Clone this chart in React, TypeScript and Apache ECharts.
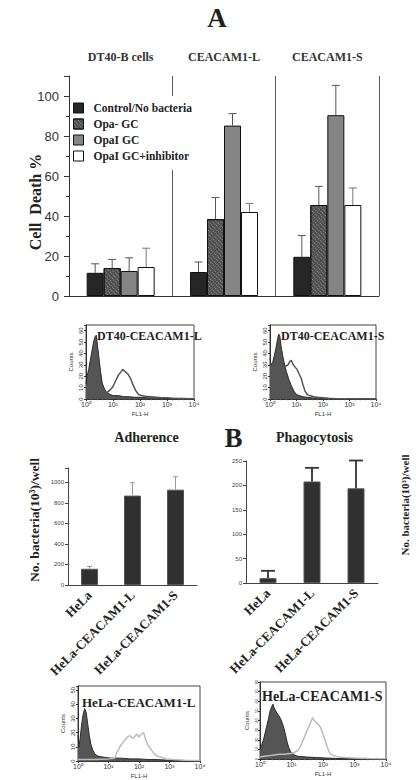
import React, { useEffect, useRef } from "react";
import * as echarts from "echarts";

const SERIF = '"Liberation Serif", "Times New Roman", serif';
const SANS = '"Liberation Sans", Arial, sans-serif';

// ---- Panel A: cell death ----
const groupNames = ["DT40-B cells", "CEACAM1-L", "CEACAM1-S"];
const seriesNames = ["Control/No bacteria", "Opa- GC", "OpaI GC", "OpaI GC+inhibitor"];
const controlVals = [11.6, 12, 19.6];
const controlTops = [16.1, 17, 30.2];
const opaNegVals = [14, 38.4, 45.5];
const opaNegTops = [18.3, 49.2, 54.8];
const opaIVals = [12.5, 85.2, 90.4];
const opaITops = [19.1, 91.2, 105.3];
const inhibVals = [14.5, 42, 45.5];
const inhibTops = [23.9, 46.3, 54];
const deathTicks = [0, 20, 40, 60, 80, 100];

// ---- Flow histograms (x = log10 FL1-H) ----
const dtLFillX = [0, 0.04, 0.1, 0.16, 0.22, 0.28, 0.34, 0.38, 0.42, 0.48, 0.54, 0.6, 0.7, 0.8, 0.9, 1.0, 1.2, 1.4, 1.6, 1.8, 2.0, 2.3, 2.6, 3.0, 3.4, 3.8, 4.0];
const dtLFillY = [13, 20, 26, 34, 42, 50, 55, 56, 48, 36, 24, 14, 8, 5, 4, 3, 3, 2, 2, 1.5, 1.5, 1, 1, 0.5, 0.5, 0.3, 0];
const dtLOpenX = [0, 0.3, 0.5, 0.6, 0.7, 0.8, 0.9, 1.0, 1.1, 1.2, 1.3, 1.36, 1.45, 1.55, 1.65, 1.75, 1.85, 1.95, 2.05, 2.2, 2.4, 2.6, 2.8, 3.0, 3.3, 3.6, 4.0];
const dtLOpenY = [1, 2, 3, 4, 5, 6, 8, 11, 16, 21, 24, 26, 24, 22, 18, 12, 7, 4, 3, 2.5, 2, 1.5, 1, 1, 0.5, 0.5, 0.3];

const dtSFillX = [0, 0.04, 0.1, 0.16, 0.22, 0.28, 0.33, 0.37, 0.42, 0.48, 0.55, 0.62, 0.7, 0.8, 0.9, 1.0, 1.1, 1.25, 1.4, 1.6, 1.8, 2.0, 2.2, 2.5, 3.0, 4.0];
const dtSFillY = [36, 30, 32, 38, 44, 52, 57, 55, 46, 38, 30, 24, 18, 12, 7, 4, 3, 2, 1.5, 1, 1, 0.7, 0.5, 0.3, 0.2, 0];
const dtSOpenX = [0, 0.2, 0.35, 0.45, 0.52, 0.6, 0.68, 0.75, 0.8, 0.88, 0.95, 1.02, 1.1, 1.18, 1.25, 1.32, 1.4, 1.5, 1.65, 1.8, 2.0, 2.2, 2.5, 3.0, 4.0];
const dtSOpenY = [3, 8, 15, 22, 27, 29, 30, 33, 34, 30, 28, 26, 22, 18, 12, 7, 4, 3, 2, 1.5, 1, 0.7, 0.3, 0.2, 0];

const helaLFillX = [0, 0.03, 0.07, 0.12, 0.17, 0.22, 0.27, 0.32, 0.37, 0.42, 0.48, 0.55, 0.65, 0.75, 0.9, 1.1, 1.4, 1.7, 2.0, 2.3, 2.6, 3.0, 3.5, 4.0];
const helaLFillY = [18, 10, 16, 26, 33, 37, 34, 26, 18, 12, 8, 5, 3.5, 3, 2.5, 2, 2, 1.5, 1.5, 1, 1, 0.5, 0.3, 0];
const helaLOpenX = [0, 0.5, 1.0, 1.2, 1.27, 1.33, 1.4, 1.48, 1.55, 1.62, 1.7, 1.78, 1.85, 1.92, 2.0, 2.07, 2.15, 2.22, 2.3, 2.4, 2.5, 2.6, 2.75, 2.9, 3.1, 3.5, 4.0];
const helaLOpenY = [1, 1, 1.5, 2, 6, 8, 11, 13, 15, 17, 18, 16, 17, 19, 17, 19, 20, 15, 11, 8, 5, 3.5, 2.5, 1.5, 1, 0.5, 0.3];

const helaSFillX = [0, 0.05, 0.11, 0.17, 0.22, 0.27, 0.32, 0.37, 0.41, 0.45, 0.5, 0.55, 0.6, 0.65, 0.7, 0.76, 0.81, 0.86, 0.91, 0.97, 1.02, 1.1, 1.18, 1.3, 1.5, 1.8, 2.1, 2.5, 3.0, 4.0];
const helaSFillY = [10, 14, 20, 28, 35, 42, 50, 54, 57, 53, 50, 47, 45, 42, 38, 32, 25, 18, 12, 8, 6, 4, 3, 2.5, 2, 1.5, 1, 0.5, 0.3, 0];
const helaSOpenX = [0, 0.2, 0.4, 0.6, 0.8, 1.0, 1.1, 1.2, 1.3, 1.4, 1.5, 1.58, 1.63, 1.67, 1.72, 1.78, 1.85, 1.92, 2.0, 2.08, 2.15, 2.22, 2.3, 2.4, 2.5, 2.7, 3.0, 3.5, 4.0];
const helaSOpenY = [2, 3, 4, 5, 5, 6, 7, 9, 14, 22, 30, 36, 40, 43, 40, 38, 36, 33, 26, 18, 11, 6, 4, 3, 2, 1.5, 1, 0.5, 0.3];

const decadeLabels = ["10⁰", "10¹", "10²", "10³", "10⁴"];

// ---- Panel B ----
const helaCats = ["HeLa", "HeLa-CEACAM1-L", "HeLa-CEACAM1-S"];
const adherenceVals = [158, 871, 929];
const adherenceTops = [181, 997, 1055];
const phagoVals = [10, 208, 194];
const phagoTops = [25, 236, 251];

const zip = (xs: number[], ys: number[]) => xs.map((x, i) => [x, ys[i]]);

function errorSeries(id: string, xi: number, yi: number, means: number[], tops: number[], offset: number, cap: number, color: string, width: number) {
  return {
    type: "custom",
    id,
    xAxisIndex: xi,
    yAxisIndex: yi,
    z: 6,
    silent: true,
    data: means.map((m, i) => [i, m, tops[i]]),
    encode: { x: 0, y: [1, 2] },
    renderItem: (params: any, api: any) => {
      const c = api.value(0);
      const p0 = api.coord([c, api.value(1)]);
      const p1 = api.coord([c, api.value(2)]);
      const x = p0[0] + offset;
      const st = { stroke: color, lineWidth: width };
      return {
        type: "group",
        children: [
          { type: "line", shape: { x1: x, y1: p0[1], x2: x, y2: p1[1] }, style: st },
          { type: "line", shape: { x1: x - cap / 2, y1: p1[1], x2: x + cap / 2, y2: p1[1] }, style: st },
        ],
      };
    },
  };
}

function histX(gridIndex: number) {
  return {
    gridIndex,
    type: "value",
    min: 0,
    max: 4,
    interval: 1,
    axisLine: { show: true, lineStyle: { color: "#333", width: 1 } },
    axisTick: { show: true, length: 2, lineStyle: { color: "#333" } },
    minorTick: { show: true, splitNumber: 5, length: 1.2, lineStyle: { color: "#555" } },
    splitLine: { show: false },
    axisLabel: { fontSize: 7, margin: 2, color: "#333", fontFamily: SANS, formatter: (v: number) => decadeLabels[v] ?? "" },
    name: "FL1-H",
    nameLocation: "middle",
    nameGap: 12,
    nameTextStyle: { fontSize: 6, color: "#333", fontFamily: SANS },
  };
}

function histY(gridIndex: number, max: number, labelSize: number) {
  return {
    gridIndex,
    type: "value",
    min: 0,
    max,
    interval: 10,
    axisLine: { show: true, lineStyle: { color: "#333", width: 1 } },
    axisTick: { show: true, length: 2, lineStyle: { color: "#333" } },
    splitLine: { show: false },
    axisLabel: { fontSize: labelSize, margin: 2, rotate: 90, color: "#333", fontFamily: SANS, formatter: (v: number) => (v % 10 === 0 ? String(v) : "") },
    name: "Counts",
    nameLocation: "middle",
    nameGap: 12,
    nameTextStyle: { fontSize: 6, color: "#333", fontFamily: SANS },
  };
}

function fillSeries(xi: number, yi: number, xs: number[], ys: number[]) {
  return {
    type: "line", xAxisIndex: xi, yAxisIndex: yi, data: zip(xs, ys), symbol: "none", silent: true, z: 2,
    lineStyle: { color: "#2a2a2a", width: 1 },
    areaStyle: { color: "#555", opacity: 1 },
  };
}
function openSeries(xi: number, yi: number, xs: number[], ys: number[], color: string) {
  return {
    type: "line", xAxisIndex: xi, yAxisIndex: yi, data: zip(xs, ys), symbol: "none", silent: true, z: 3,
    lineStyle: { color, width: 1.5 },
  };
}

function txt(text: string, x: number, y: number, size: number, opts: any = {}) {
  return {
    type: "text",
    x,
    y,
    rotation: opts.rotation ?? 0,
    z: 10,
    style: {
      text,
      fill: opts.color ?? "#222",
      fontSize: size,
      fontWeight: opts.weight ?? "bold",
      fontFamily: opts.family ?? SERIF,
      align: opts.align ?? "center",
      verticalAlign: "middle",
    },
  };
}

export default function App() {
  const ref = useRef<HTMLDivElement>(null);
  useEffect(() => {
    document.body.style.margin = "0";
    if (!ref.current) return;
    const chart = echarts.init(ref.current, undefined, { renderer: "svg" });
    const barBorder = { borderColor: "#111", borderWidth: 1 };
    const option: any = {
      animation: false,
      backgroundColor: "#fff",
      grid: [
        { left: 69, top: 76, width: 310, height: 220, show: false },
        { left: 86, top: 325, width: 108, height: 74, show: true, borderColor: "#444", borderWidth: 1 },
        { left: 270, top: 325, width: 106, height: 74, show: true, borderColor: "#444", borderWidth: 1 },
        { left: 68, top: 468, width: 129, height: 117, show: false },
        { left: 246, top: 461, width: 132, height: 122, show: false },
        { left: 78, top: 686, width: 122, height: 75, show: true, borderColor: "#444", borderWidth: 1 },
        { left: 260, top: 682, width: 126, height: 77, show: true, borderColor: "#444", borderWidth: 1 },
        { left: 69, top: 92, width: 10, height: 220, show: false },
      ],
      legend: {
        data: seriesNames,
        orient: "vertical",
        left: 70,
        top: 96,
        itemWidth: 10,
        itemHeight: 10,
        itemGap: 4,
        icon: "rect",
        padding: [6, 4, 8, 3],
        backgroundColor: "#fff",
        itemStyle: { borderColor: "#111", borderWidth: 1 },
        textStyle: { fontFamily: SERIF, fontWeight: "bold", fontSize: 11.5, color: "#222", padding: [0, 0, 0, 5] },
        selectedMode: false,
      },
      xAxis: [
        {
          gridIndex: 0, type: "category", data: groupNames, position: "bottom",
          axisLine: { show: true, lineStyle: { color: "#333" } },
          axisTick: { show: false }, axisLabel: { show: false },
          splitLine: { show: true, lineStyle: { color: "#555", width: 1 } },
        },
        {
          gridIndex: 0, type: "category", data: groupNames, position: "top",
          axisLine: { show: false }, axisTick: { show: false }, splitLine: { show: false },
          axisLabel: { margin: 13, fontFamily: SERIF, fontWeight: "bold", fontSize: 12, color: "#333" },
        },
        histX(1),
        histX(2),
        {
          gridIndex: 3, type: "category", data: helaCats,
          axisLine: { show: true, lineStyle: { color: "#444" } }, axisTick: { show: false },
          axisLabel: { interval: 0, rotate: 45, margin: 8, fontFamily: SERIF, fontWeight: "bold", fontSize: 13, color: "#222" },
        },
        {
          gridIndex: 4, type: "category", data: helaCats,
          axisLine: { show: true, lineStyle: { color: "#444" } }, axisTick: { show: false },
          axisLabel: { interval: 0, rotate: 45, margin: 8, fontFamily: SERIF, fontWeight: "bold", fontSize: 13, color: "#222" },
        },
        histX(5),
        histX(6),
        { gridIndex: 7, type: "value", show: false, min: 0, max: 1 },
      ],
      yAxis: [
        {
          gridIndex: 0, type: "value", min: 0, max: 110, interval: 20,
          axisLine: { show: true, lineStyle: { color: "#333" } },
          axisTick: { show: true, length: 5, lineStyle: { color: "#333" } },
          minorTick: { show: true, splitNumber: 2, length: 3, lineStyle: { color: "#333" } },
          splitLine: { show: false },
          axisLabel: {
            margin: 10, fontFamily: SANS, fontSize: 13, color: "#333",
            formatter: (v: number) => (deathTicks.includes(v) ? String(v) : ""),
          },
        },
        histY(1, 65, 6),
        histY(2, 65, 6),
        {
          gridIndex: 3, type: "value", min: 0, max: 1140, interval: 200,
          axisLine: { show: true, lineStyle: { color: "#444" } },
          axisTick: { show: true, length: 3, lineStyle: { color: "#444" } },
          splitLine: { show: false },
          axisLabel: { margin: 4, fontFamily: SANS, fontSize: 6, color: "#444", formatter: (v: number) => (v % 200 === 0 ? String(v) : "") },
        },
        {
          gridIndex: 4, type: "value", min: 0, max: 250, interval: 50,
          axisLine: { show: true, lineStyle: { color: "#444" } },
          axisTick: { show: true, length: 3, lineStyle: { color: "#444" } },
          splitLine: { show: false },
          axisLabel: { margin: 4, fontFamily: SANS, fontSize: 6, color: "#444" },
        },
        histY(5, 53, 6),
        { ...histY(6, 80, 4), nameGap: 10 },
        {
          gridIndex: 7, type: "value", min: 0, max: 1,
          axisLine: { show: false }, axisTick: { show: false }, axisLabel: { show: false }, splitLine: { show: false },
          name: "Cell  Death %", nameLocation: "middle", nameGap: 26,
          nameTextStyle: { fontFamily: SERIF, fontWeight: "bold", fontSize: 16, color: "#222" },
        },
      ],
      series: [
        { type: "bar", name: seriesNames[0], xAxisIndex: 0, yAxisIndex: 0, data: controlVals, barWidth: 17, barGap: "0%", itemStyle: { color: "#262626", ...barBorder } },
        {
          type: "bar", name: seriesNames[1], xAxisIndex: 0, yAxisIndex: 0, data: opaNegVals, barWidth: 17, barGap: "0%",
          itemStyle: {
            color: "#4e4e4e", ...barBorder,
            decal: { symbol: "rect", symbolSize: 1, color: "rgba(170,170,170,0.75)", dashArrayX: [1, 1], dashArrayY: [1, 2], rotation: Math.PI / 4 },
          },
        },
        { type: "bar", name: seriesNames[2], xAxisIndex: 0, yAxisIndex: 0, data: opaIVals, barWidth: 17, barGap: "0%", itemStyle: { color: "#858585", ...barBorder } },
        { type: "bar", name: seriesNames[3], xAxisIndex: 0, yAxisIndex: 0, data: inhibVals, barWidth: 17, barGap: "0%", itemStyle: { color: "#ffffff", ...barBorder } },
        errorSeries("e0", 0, 0, controlVals, controlTops, -25.5, 8, "#555", 1),
        errorSeries("e1", 0, 0, opaNegVals, opaNegTops, -8.5, 8, "#555", 1),
        errorSeries("e2", 0, 0, opaIVals, opaITops, 8.5, 8, "#555", 1),
        errorSeries("e3", 0, 0, inhibVals, inhibTops, 25.5, 8, "#777", 1),

        fillSeries(2, 1, dtLFillX, dtLFillY),
        openSeries(2, 1, dtLOpenX, dtLOpenY, "#555"),
        fillSeries(3, 2, dtSFillX, dtSFillY),
        openSeries(3, 2, dtSOpenX, dtSOpenY, "#555"),

        { type: "bar", name: "Adherence", xAxisIndex: 4, yAxisIndex: 3, data: adherenceVals, barWidth: 17, itemStyle: { color: "#303030", borderColor: "#555", borderWidth: 1 } },
        errorSeries("ea", 4, 3, adherenceVals, adherenceTops, 0, 5, "#999", 1),
        { type: "bar", name: "Phagocytosis", xAxisIndex: 5, yAxisIndex: 4, data: phagoVals, barWidth: 17, itemStyle: { color: "#303030", borderColor: "#555", borderWidth: 1 } },
        errorSeries("ep", 5, 4, phagoVals, phagoTops, 0, 14, "#333", 1.8),

        fillSeries(6, 5, helaLFillX, helaLFillY),
        openSeries(6, 5, helaLOpenX, helaLOpenY, "#bcbcbc"),
        fillSeries(7, 6, helaSFillX, helaSFillY),
        openSeries(7, 6, helaSOpenX, helaSOpenY, "#bcbcbc"),
      ],
      graphic: [
        txt("A", 217, 18, 27),
        txt("DT40-CEACAM1-L", 97, 336, 12, { align: "left" }),
        txt("DT40-CEACAM1-S", 281, 336, 12, { align: "left" }),
        txt("Adherence", 146.5, 437, 14),
        txt("B", 233.5, 438, 27),
        txt("Phagocytosis", 314.5, 437, 14),
        txt("No. bacteria(10³)/well", 34, 520, 13.5, { rotation: Math.PI / 2 }),
        txt("No. bacteria(10³)/well", 405, 505, 11, { rotation: Math.PI / 2 }),
        txt("HeLa-CEACAM1-L", 82, 702, 13, { align: "left" }),
        txt("HeLa-CEACAM1-S", 262, 696, 14, { align: "left" }),
      ],
    };
    chart.setOption(option);
    return () => chart.dispose();
  }, []);
  return <div ref={ref} style={{ width: 416, height: 780 }} />;
}
